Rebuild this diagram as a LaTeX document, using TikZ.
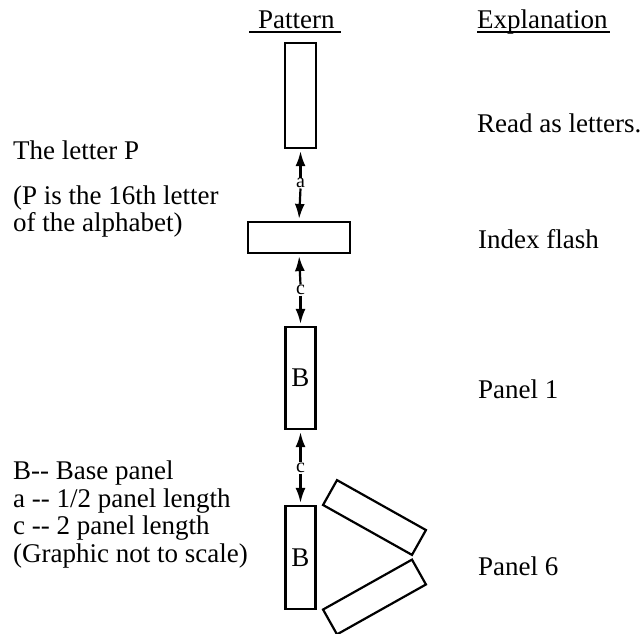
\documentclass[tikz,border=0pt]{standalone}
\usepackage{fontspec}
\setmainfont[Ligatures=TeXOff]{Liberation Serif}
\usetikzlibrary{arrows.meta}
\begin{document}
\begin{tikzpicture}[x=1pt,y=-1pt,
  txt/.style={font=\fontsize{27}{28}\selectfont, inner sep=0pt, anchor=base west},
  panel/.style={draw, line width=2.2pt, inner sep=0pt, font=\fontsize{27}{28}\selectfont},
  lbl/.style={font=\fontsize{20}{22}\selectfont, inner sep=0.5pt},
  arr/.style={line width=2.2pt, -{Latex[length=15pt,width=10pt]}, shorten >=2pt}
]
\useasboundingbox (0,0) rectangle (643,633);

% headers
\node[txt] (pat) at (258,28) {Pattern};
\node[txt] (expl) at (477,28) {Explanation};
\draw[line width=1.6pt] ([shift={(-9,4)}]pat.base west) -- ([shift={(6,4)}]pat.base east);
\draw[line width=1.6pt] ([shift={(0,4)}]expl.base west) -- ([shift={(2,4)}]expl.base east);

% panels
\node[panel, minimum width=31, minimum height=105] (r1) at (300.5,95.5) {};
\node[panel, minimum width=102, minimum height=31] (r2) at (299,237.5) {};
\node[panel, minimum width=30, minimum height=102] (r3) at (300.5,378) {B};
\node[panel, minimum width=30, minimum height=103] (r4) at (300.5,557.5) {B};
\node[panel, minimum width=102, minimum height=28.5, rotate=-29.3] (r5) at (374.5,517.5) {};
\node[panel, minimum width=102, minimum height=28.5, rotate=29.3] (r6) at (374.5,597) {};

% distance arrows
\node[lbl] (la) at (300.5,183) {a};
\node[lbl] (lc1) at (300.5,290) {c};
\node[lbl] (lc2) at (300.5,468) {c};
\draw[arr] (la.north) -- (r1.south);
\draw[arr] (la.south) -- (r2.north);
\draw[arr] (lc1.north) -- (r2.south);
\draw[arr] (lc1.south) -- (r3.north);
\draw[arr] (lc2.north) -- (r3.south);
\draw[arr] (lc2.south) -- (r4.north);

% left texts
\node[txt] (tp) at (13,159) {The letter P};
\node[txt] (tp2) at (13,204) {(P is the 16th letter};
\node[txt] (tp3) at (13,231) {of the alphabet)};
\node[txt] (leg1) at (13,479) {B-- Base panel};
\node[txt] (leg2) at (13,507) {a -- 1/2 panel length};
\node[txt] (leg3) at (13,534) {c -- 2 panel length};
\node[txt] (leg4) at (13,562) {(Graphic not to scale)};

% right texts
\node[txt] (e1) at (477,132) {Read as letters.};
\node[txt] (e2) at (478,248) {Index flash};
\node[txt] (e3) at (478,398) {Panel 1};
\node[txt] (e4) at (478,575) {Panel 6};
\end{tikzpicture}
\end{document}
